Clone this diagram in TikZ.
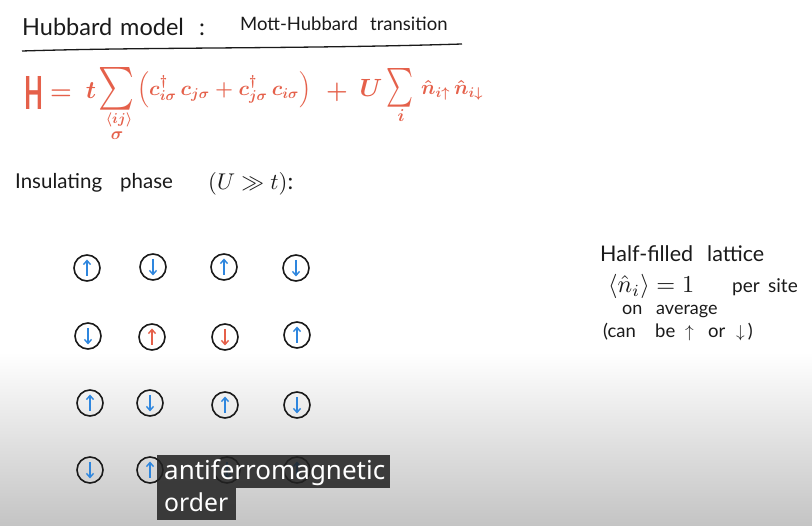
\documentclass[tikz,border=0pt]{standalone}
\usepackage{amsmath,amssymb}
\usepackage{graphicx}
\usepackage{fontspec}
\setmainfont{Lato}
\newfontfamily\subfont{Noto Sans}
\usetikzlibrary{arrows.meta}
\definecolor{penred}{HTML}{E5604A}
\definecolor{penblue}{HTML}{2E86DE}
\definecolor{ink}{HTML}{1A1A1A}
\definecolor{shadegray}{HTML}{C4C4C4}
\definecolor{subbg}{HTML}{222222}
\newcommand\spinUp[2]{\draw[spin,#2] ([yshift=-8pt]#1.center) -- ([yshift=8.5pt]#1.center);}
\newcommand\spinDn[2]{\draw[spin,#2] ([yshift=8pt]#1.center) -- ([yshift=-8.5pt]#1.center);}
\begin{document}
\begin{tikzpicture}[x=1pt,y=1pt,
  site/.style={circle, draw=ink, line width=1.6pt, minimum size=26pt, inner sep=0pt},
  spin/.style={-{Straight Barb[length=4pt,width=7pt]}, line width=1.4pt},
  hand/.style={text=ink, inner sep=0pt, anchor=base west},
  ttl/.style={hand, font=\fontsize{23.5}{26}\selectfont},
  sttl/.style={hand, font=\fontsize{18.5}{22}\selectfont},
  ins/.style={hand, font=\fontsize{20.5}{24}\selectfont},
  eq/.style={text=penred, inner sep=0pt, font=\boldmath},
  subtxt/.style={text=white, inner sep=0pt, anchor=base west, font=\subfont\fontsize{14}{16}\selectfont}]
\useasboundingbox (0,0) rectangle (812,-526);
\fill[white] (0,0) rectangle (812,-526);
\shade[top color=white, bottom color=shadegray] (0,-352) rectangle (812,-526);

% title
\node[ttl] (title1) at (22,-36) {Hubbard};
\node[ttl] (title2) at (120,-36) {model};
\node[ttl] (title3) at (199,-36) {:};
\node[sttl] (title4) at (240,-31) {Mott-Hubbard};
\node[sttl] (title5) at (370,-31) {transition};
\draw[ink, line width=1.3pt] (22,-51) .. controls (150,-47) and (300,-49) .. (462,-44);

% Hamiltonian
\node[eq] (eqH) at (34,-93) {\resizebox{19pt}{33pt}{$\mathrm{H}$}};
\node[eq] (eqeq) at (61,-95) {\fontsize{30}{30}\selectfont$=$};
\node[eq] (eqt) at (91,-91) {\fontsize{30}{30}\selectfont$t$};
\node[eq] (eqsum1) at (117,-89) {\resizebox{36pt}{32pt}{$\sum$}};
\node[eq] (eqsub1) at (119,-120) {\fontsize{14}{14}\selectfont$\langle ij\rangle$};
\node[eq] (eqsub2) at (117,-136) {\fontsize{16}{16}\selectfont$\sigma$};
\node[eq, anchor=west] (eqpar) at (137,-90) {\resizebox{174pt}{!}{\fontsize{14}{16}\selectfont\boldmath$\left(c^{\dagger}_{i\sigma}\,c_{j\sigma}+c^{\dagger}_{j\sigma}\,c_{i\sigma}\right)$}};
\node[eq] (eqplus) at (337,-92) {\fontsize{30}{30}\selectfont$+$};
\node[eq] (eqU) at (371,-88) {\fontsize{30}{30}\selectfont$U$};
\node[eq] (eqsum2) at (400,-88) {\resizebox{27pt}{29pt}{$\sum$}};
\node[eq] (eqsub3) at (401,-116) {\fontsize{16}{16}\selectfont$i$};
\node[eq, anchor=west] (eqnn) at (421,-90) {\resizebox{62pt}{!}{\fontsize{14}{16}\selectfont\boldmath$\hat n_{i\uparrow}\,\hat n_{i\downarrow}$}};

% insulating phase
\node[ins] (ins1) at (15,-189) {Insulating};
\node[ins] (ins1b) at (120,-189) {phase};
\node[hand] (ins2) at (208,-190) {\resizebox{85pt}{!}{\fontsize{10}{12}\selectfont$(U\gg t)$:}};

% right notes
\node[hand, font=\fontsize{21.5}{24}\selectfont] (note1) at (600,-262) {Half-filled};
\node[hand, font=\fontsize{21.5}{24}\selectfont] (note1b) at (707,-262) {lattice};
\node[hand] (note2) at (608,-293) {\resizebox{86pt}{!}{\fontsize{10}{12}\selectfont$\langle\hat n_i\rangle=1$}};
\node[hand, font=\fontsize{19}{22}\selectfont] (note3) at (732,-293) {per};
\node[hand, font=\fontsize{19}{22}\selectfont] (note3b) at (768,-293) {site};
\node[hand, font=\fontsize{18}{21}\selectfont] (note4) at (622,-315) {on};
\node[hand, font=\fontsize{18}{21}\selectfont] (note4b) at (656,-315) {average};
\node[hand, font=\fontsize{18.5}{21}\selectfont] (note5) at (603,-338) {(can};
\node[hand, font=\fontsize{18.5}{21}\selectfont] (note5b) at (655,-338) {be};
\node[hand, font=\fontsize{18.5}{21}\selectfont] (note5c) at (685,-338) {$\uparrow$};
\node[hand, font=\fontsize{18.5}{21}\selectfont] (note5d) at (708,-338) {or};
\node[hand, font=\fontsize{18.5}{21}\selectfont] (note5e) at (736,-338) {$\downarrow$\,)};

% lattice
\node[site] (s11) at (87,-268) {};
\node[site] (s12) at (153,-267) {};
\node[site] (s13) at (224,-267) {};
\node[site] (s14) at (296,-268) {};
\node[site] (s21) at (88,-336) {};
\node[site] (s22) at (152,-337) {};
\node[site] (s23) at (225,-337) {};
\node[site] (s24) at (297,-335) {};
\node[site] (s31) at (90,-403) {};
\node[site] (s32) at (150,-403) {};
\node[site] (s33) at (225,-405) {};
\node[site] (s34) at (297,-405) {};
\node[site] (s41) at (90,-470) {};
\node[site] (s42) at (150,-470) {};
\node[site] (s43) at (227,-470) {};
\node[site] (s44) at (297,-470) {};

\spinUp{s11}{penblue}
\spinDn{s12}{penblue}
\spinUp{s13}{penblue}
\spinDn{s14}{penblue}
\spinDn{s21}{penblue}
\spinUp{s22}{penred}
\spinDn{s23}{penred}
\spinUp{s24}{penblue}
\spinUp{s31}{penblue}
\spinDn{s32}{penblue}
\spinUp{s33}{penblue}
\spinDn{s34}{penblue}
\spinDn{s41}{penblue}
\spinUp{s42}{penblue}
\spinDn{s43}{penblue}
\spinUp{s44}{penblue}

% subtitle
\fill[subbg, fill opacity=0.86] (157,-455) rectangle (390,-488);
\fill[subbg, fill opacity=0.86] (157,-488) rectangle (236,-520);
\node[subtxt] (sub1) at (164,-480) {\resizebox{221pt}{!}{antiferromagnetic}};
\node[subtxt] (sub2) at (164,-512) {\resizebox{64pt}{!}{order}};
\end{tikzpicture}
\end{document}
